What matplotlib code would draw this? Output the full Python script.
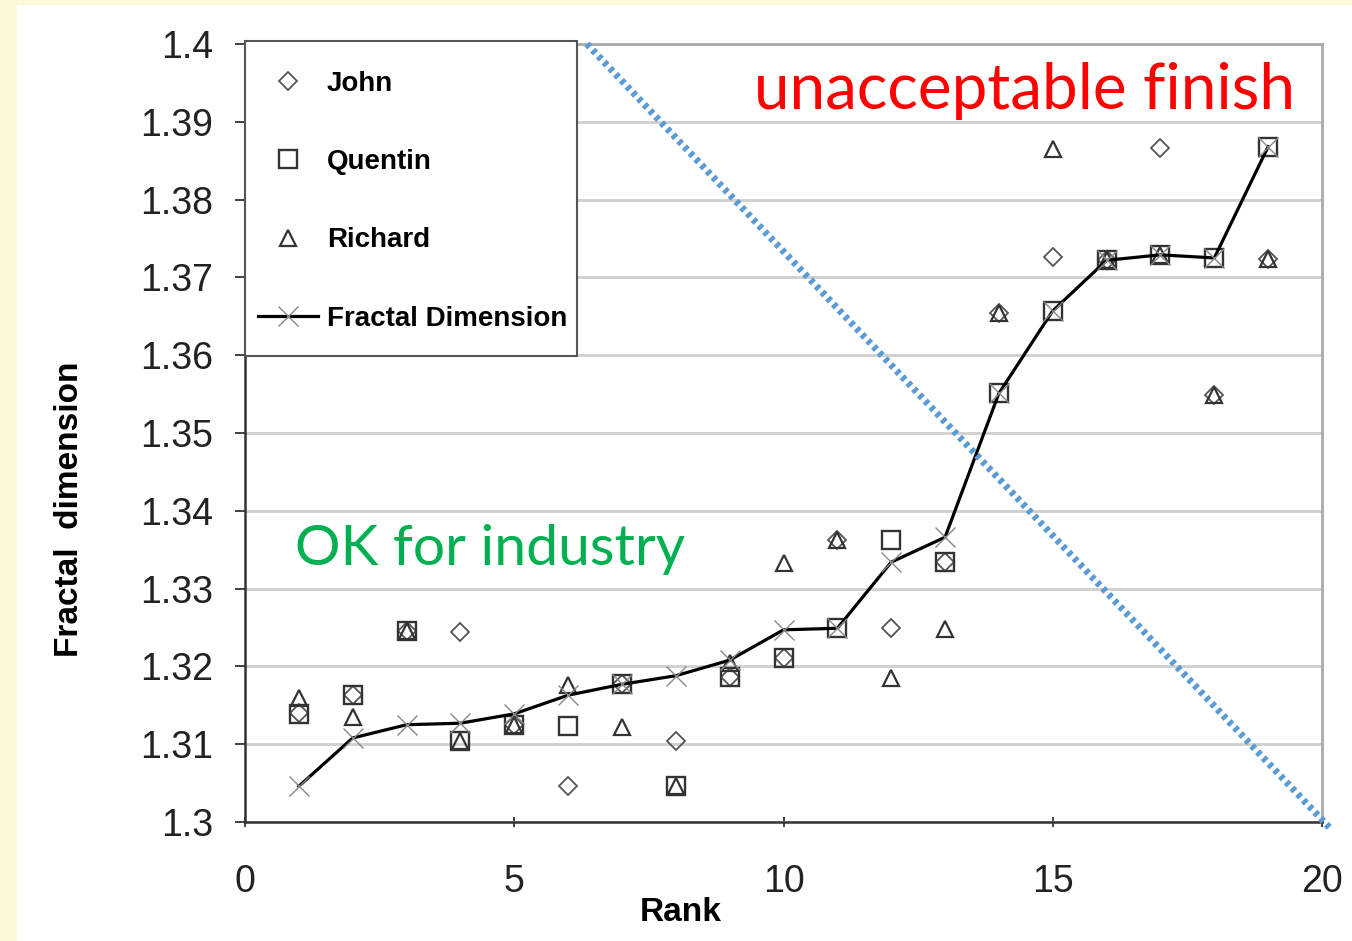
import matplotlib
matplotlib.use("Agg")
from matplotlib import pyplot as plt
from matplotlib.patches import Rectangle

plt.rcParams['font.family'] = ['Liberation Sans', 'DejaVu Sans']

# ranks and values
rank = list(range(1, 20))
john = [1.3140, 1.3163, 1.3245, 1.3244, 1.3125, 1.3046, 1.3177, 1.3104, 1.3186, 1.3211,
        1.3362, 1.3249, 1.3334, 1.3654, 1.3726, 1.3722, 1.3866, 1.3549, 1.3724]
quentin = [1.3139, 1.3163, 1.3245, 1.3104, 1.3125, 1.3123, 1.3177, 1.3046, 1.3186, 1.3211,
           1.3249, 1.3362, 1.3334, 1.3551, 1.3657, 1.3722, 1.3729, 1.3725, 1.3868]
richard = [1.3160, 1.3135, 1.3245, 1.3104, 1.3125, 1.3176, 1.3122, 1.3046, 1.3204, 1.3333,
           1.3362, 1.3185, 1.3248, 1.3654, 1.3865, 1.3722, 1.3729, 1.3549, 1.3724]
fractal = [1.3046, 1.3108, 1.3125, 1.3127, 1.3139, 1.3163, 1.3177, 1.3188, 1.3208, 1.3247,
           1.3249, 1.3334, 1.3366, 1.3551, 1.3657, 1.3722, 1.3729, 1.3725, 1.3868]

fig = plt.figure(figsize=(13.52, 9.41), dpi=100)
fig.patch.set_facecolor('#fdfadc')
fig.patches.append(Rectangle((17 / 1352, 0), 1, 1 - 5 / 941, transform=fig.transFigure,
                             facecolor='white', edgecolor='none', zorder=-10))

ax = fig.add_axes([245 / 1352, 1 - 822 / 941, 1077 / 1352, 778 / 941])
ax.set_facecolor('white')

ax.plot(rank, john, linestyle='none', marker='D', markersize=9, markerfacecolor='none',
        markeredgecolor='#555555', markeredgewidth=1.3, label='John', zorder=3)
ax.plot(rank, quentin, linestyle='none', marker='s', markersize=13, markerfacecolor='none',
        markeredgecolor='#333333', markeredgewidth=1.7, label='Quentin', zorder=3)
ax.plot(rank, richard, linestyle='none', marker='^', markersize=12, markerfacecolor='none',
        markeredgecolor='#333333', markeredgewidth=1.6, label='Richard', zorder=3)
ax.plot(rank, fractal, color='black', linewidth=2.3, marker='x', markersize=15,
        markeredgecolor='#888888', markeredgewidth=1.0, label='Fractal Dimension', zorder=4)

ax.set_xlim(0, 20)
ax.set_ylim(1.3, 1.4)
ax.set_xticks([0, 5, 10, 15, 20])
ax.set_yticks([1.3 + 0.01 * i for i in range(11)])
ax.set_yticklabels(['1.3', '1.31', '1.32', '1.33', '1.34', '1.35', '1.36', '1.37',
                    '1.38', '1.39', '1.4'])
ax.tick_params(axis='both', labelsize=27, colors='#222222', length=7, width=1.2)
ax.tick_params(axis='x', direction='inout', pad=27)
ax.tick_params(axis='y', pad=16)
ax.grid(axis='y', color='#cfcfcf', linewidth=2)
ax.set_axisbelow(True)

for s in ['left', 'bottom']:
    ax.spines[s].set_color('#333333')
    ax.spines[s].set_linewidth(1.8)
for s in ['top', 'right']:
    ax.spines[s].set_color('#aaaaaa')
    ax.spines[s].set_linewidth(2)

ax.set_xlabel('Rank', fontsize=24, fontweight='bold')
ax.xaxis.set_label_coords(0.405, -0.0964)
ax.set_ylabel('Fractal  dimension', fontsize=24, fontweight='bold')
ax.yaxis.set_label_coords(-0.1486, 0.402)

# legend box drawn separately so its size matches the original
ax.add_patch(Rectangle((0, 0.599), 0.3083, 0.405, transform=ax.transAxes, facecolor='white',
                       edgecolor='#555555', linewidth=1.5, clip_on=False, zorder=5))
leg = ax.legend(loc='upper left', bbox_to_anchor=(0.012, 0.9653), borderaxespad=0,
                frameon=False, labelspacing=1.88, handlelength=2.15, handletextpad=0.33,
                borderpad=0, prop={'weight': 'bold', 'size': 20})
leg.set_zorder(6)

ax.text(0.975, 0.9165, 'unacceptable finish', transform=ax.transAxes, color='#ff0000',
        fontsize=46, family=['Lato', 'DejaVu Sans'], ha='right', va='baseline', zorder=6)
ax.text(0.0464, 0.330, 'OK for industry', transform=ax.transAxes, color='#00b050',
        fontsize=41, family=['Lato', 'DejaVu Sans'], ha='left', va='baseline', zorder=6)

ax.plot([6.35, 20.15], [1.4, 1.2992], color='#5b9bd5', linewidth=5, linestyle=(0, (0.6, 0.6)),
        clip_on=False, zorder=7)

fig.savefig('out.png', dpi=100, facecolor=fig.get_facecolor())
